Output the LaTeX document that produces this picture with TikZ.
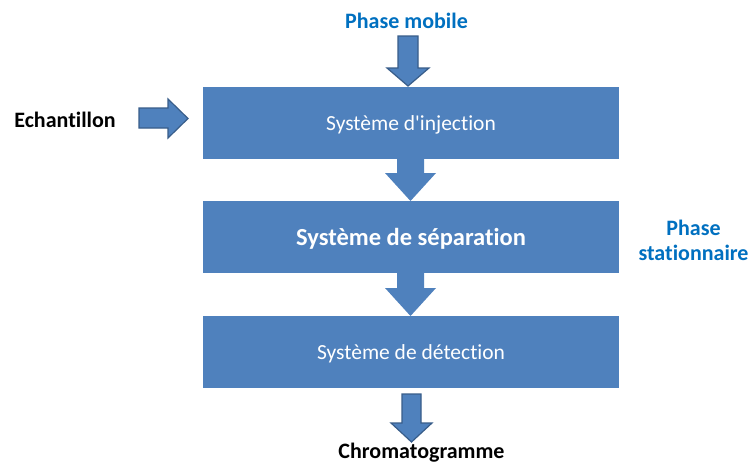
\documentclass[tikz,border=0pt]{standalone}
\usepackage{fontspec}
\setmainfont{Carlito}[Ligatures={NoCommon,TeXOff}]
\definecolor{boxblue}{HTML}{4F81BD}
\definecolor{edgeblue}{HTML}{385D8A}
\definecolor{labelblue}{HTML}{0070C0}
\newcommand{\fatdown}[7]{% style, x, ytop, yhead, ytip, shafthalf, headhalf
  \fill[#1] (#2-#6,#3) -- (#2+#6,#3) -- (#2+#6,#4) -- (#2+#7,#4) -- (#2,#5)
    -- (#2-#7,#4) -- (#2-#6,#4) -- cycle;}
\tikzset{
  box/.style={fill=boxblue, draw=none, minimum width=416pt, minimum height=72pt,
    inner sep=0pt, text=white, font=\fontsize{21.5}{25}\selectfont,
    text height=14pt, text depth=0pt},
  lbl/.style={font=\fontsize{22}{25}\selectfont\bfseries, inner sep=0pt, align=center},
  fatline/.style={fill=boxblue, draw=edgeblue, line width=1.2pt, line join=miter},
  fatplain/.style={fill=boxblue}
}
\begin{document}
\begin{tikzpicture}[x=1pt,y=-1pt]
\useasboundingbox[fill=white] (0,0) rectangle (749,464);
\node[box] (inj) at (411,123) {Système d'injection};
\node[box, text height=16pt, font=\fontsize{24.5}{28}\selectfont\bfseries] (sep) at (411,237) {Système de séparation};
\node[box] (det) at (411,352) {Système de détection};
\node[lbl, text=labelblue] (mob) at (406.5,20.5) {Phase mobile};
\node[lbl] (ech) at (65,119.5) {Echantillon};
\node[lbl, text=labelblue] (stat) at (693.5,240) {Phase\\stationnaire};
\node[lbl] (chrom) at (421.5,453) {Chromatogramme};
% arrows
\fatdown{fatline}{408}{36}{68}{86}{10}{21}
\fatdown{fatplain}{410.5}{158}{173}{201}{13.5}{25.5}
\fatdown{fatplain}{410.5}{272}{288}{316}{13.5}{25.5}
\fatdown{fatline}{411.5}{394}{423}{442}{9.5}{20.5}
\fill[fatline] (139,108) -- (168,108) -- (168,99) -- (188,118.5) -- (168,138)
  -- (168,128) -- (139,128) -- cycle;
\end{tikzpicture}
\end{document}
